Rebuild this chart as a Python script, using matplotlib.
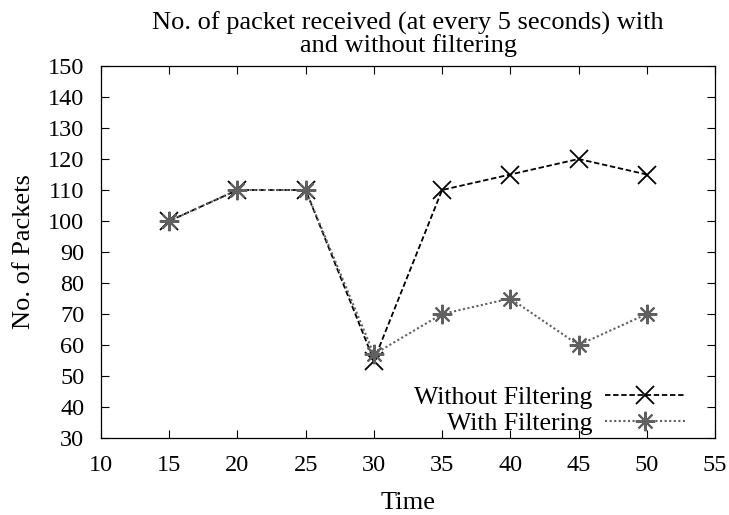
import matplotlib
matplotlib.use("Agg")
import matplotlib.pyplot as plt

time = [15, 20, 25, 30, 35, 40, 45, 50]
without_filtering = [100, 110, 110, 55, 110, 115, 120, 115]
with_filtering = [100, 110, 110, 57, 70, 75, 60, 70]
xticks = [10, 15, 20, 25, 30, 35, 40, 45, 50, 55]
yticks = [30, 40, 50, 60, 70, 80, 90, 100, 110, 120, 130, 140, 150]

W, H = 729, 515
plt.rcParams['font.family'] = ['Liberation Serif', 'DejaVu Serif']
fig = plt.figure(figsize=(W/100, H/100), dpi=100)
ax = fig.add_axes([101/W, 1-438/H, (715-101)/W, (438-66)/H])

ax.plot(time, without_filtering, color='black', linestyle=(0, (3, 1.5)), linewidth=1.3,
        marker='x', markersize=13, markeredgewidth=1.3, label='Without Filtering')
ax.plot(time, with_filtering, color='#606060', linestyle=(0, (1, 1.2)), linewidth=1.5,
        marker=(8, 2, 0), markersize=14, markeredgewidth=1.5, label='With Filtering')

ax.set_xlim(10, 55)
ax.set_ylim(30, 150)
ax.set_xticks(xticks)
ax.set_yticks(yticks)
ax.tick_params(direction='in', top=True, right=True, labelsize=17.5, length=6, width=0.8)
ax.tick_params(axis='y', pad=12)
ax.tick_params(axis='x', pad=12)
for s in ax.spines.values():
    s.set_linewidth(0.9)

ax.set_xlabel('Time', fontsize=19, labelpad=12)
ax.set_ylabel('No. of Packets', fontsize=19, labelpad=9)
ax.set_title('No. of packet received (at every 5 seconds) with\nand without filtering', fontsize=19,
             linespacing=0.95, pad=10)

leg = ax.legend(loc='lower right', markerfirst=False, frameon=False, fontsize=18.5,
                handlelength=3.1, handletextpad=0.5, labelspacing=0.1,
                borderaxespad=0, borderpad=0,
                bbox_to_anchor=(685/W, 1-435/H), bbox_transform=fig.transFigure)
fig.savefig('out.png', dpi=100)
